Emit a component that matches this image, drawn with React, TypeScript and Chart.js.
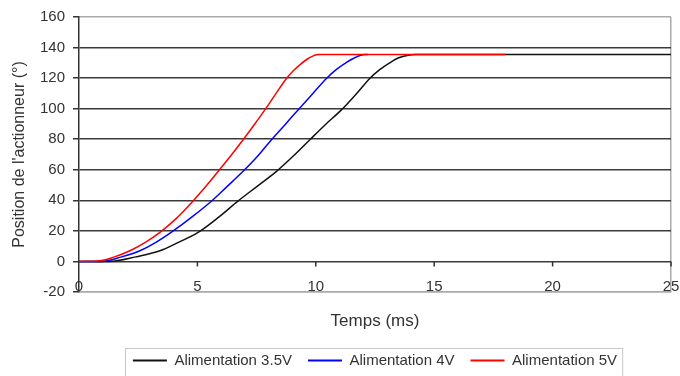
import { useEffect, useRef } from "react";
import { Chart, registerables } from "chart.js";

Chart.register(...registerables);

// ---- data ----
const seriesNames = ["Alimentation 3.5V", "Alimentation 4V", "Alimentation 5V"];
const seriesColors = ["#111111", "#0000ff", "#ff0000"];

const time35 = [0, 1.3, 2.4, 3.42, 4.2, 5.03, 5.9, 6.72, 7.55, 8.34, 9.05, 9.75, 10.4, 11.08, 11.7, 12.28, 12.7, 13.12, 13.5, 13.9, 14.2, 25];
const pos35 = [0, 0, 3, 7, 12.5, 19, 29, 39.6, 49.5, 59, 69, 79.7, 89.5, 99.2, 109.5, 119.8, 125.5, 130, 133.3, 135, 135.5, 135.5];

const time4 = [0, 0.95, 1.8, 2.57, 3.3, 3.98, 4.8, 5.6, 6.25, 6.93, 7.55, 8.13, 8.7, 9.25, 9.85, 10.45, 10.9, 11.3, 11.6, 11.9, 12.2];
const pos4 = [0, 0, 3, 7, 13, 20, 29.5, 39.6, 49, 59, 69, 79.7, 89.5, 99.2, 109.5, 119.8, 126, 130.3, 133, 135, 135.5];

const time5 = [0, 0.9, 1.5, 2.15, 2.8, 3.42, 4.1, 4.82, 5.35, 5.88, 6.4, 6.93, 7.4, 7.85, 8.3, 8.76, 9.05, 9.35, 9.7, 10.1, 18];
const pos5 = [0, 0.5, 3, 7, 12.5, 19, 28, 39.6, 49, 59, 69, 79.7, 89.5, 99.2, 109.5, 119.8, 124.8, 129, 133, 135.5, 135.5];

const xMin = 0, xMax = 25, xStep = 5;
const yMin = -20, yMax = 160, yStep = 20;

const xTitle = "Temps (ms)";
const yTitle = "Position de l'actionneur (°)";

const toPoints = (ts: number[], vs: number[]) => ts.map((t, i) => ({ x: t, y: vs[i] }));

const FONT = "'Liberation Sans', Arial, sans-serif";

const decorPlugin = {
  id: "decor",
  beforeDatasetsDraw(chart: any) {
    const { ctx, scales } = chart;
    const xs = scales.x, ys = scales.y;
    const y0 = ys.getPixelForValue(0);
    ctx.save();
    ctx.strokeStyle = "#333";
    ctx.lineWidth = 1.5;
    xs.ticks.forEach((tk: any) => {
      if (tk.value === xMin) return;
      const px = xs.getPixelForValue(tk.value);
      ctx.beginPath();
      ctx.moveTo(px, y0);
      ctx.lineTo(px, y0 + 5);
      ctx.stroke();
    });
    ctx.restore();
  },
  afterDraw(chart: any) {
    const { ctx, scales } = chart;
    const xs = scales.x;
    // x tick labels, sitting on the bottom border line
    ctx.save();
    ctx.font = `15px ${FONT}`;
    ctx.fillStyle = "#333";
    ctx.textAlign = "center";
    ctx.textBaseline = "middle";
    const ly = xs.top - 5;
    xs.ticks.forEach((tk: any) => {
      ctx.fillText(String(tk.value), xs.getPixelForValue(tk.value), ly);
    });
    ctx.restore();

    const lg = chart.legend;
    if (!lg || !lg.legendHitBoxes || !lg.legendHitBoxes.length) return;
    const hb = lg.legendHitBoxes;
    const left = Math.min(...hb.map((h: any) => h.left)) - 8;
    const right = Math.max(...hb.map((h: any) => h.left + h.width)) + 5;
    const top = Math.min(...hb.map((h: any) => h.top)) - 5;
    ctx.save();
    ctx.strokeStyle = "#c8c8c8";
    ctx.lineWidth = 1;
    ctx.strokeRect(Math.round(left) + 0.5, Math.round(top) + 0.5, right - left, chart.height - top + 5);
    ctx.restore();
  },
};

export default function App() {
  const ref = useRef<HTMLCanvasElement | null>(null);

  useEffect(() => {
    if (!ref.current) return;
    const data = [toPoints(time35, pos35), toPoints(time4, pos4), toPoints(time5, pos5)];
    const orders = [2, 1, 0];
    const chart = new Chart(ref.current, {
      type: "scatter",
      data: {
        datasets: seriesNames.map((name, i) => ({
          label: name,
          data: data[i],
          showLine: true,
          borderColor: seriesColors[i],
          backgroundColor: seriesColors[i],
          borderWidth: 1.5,
          pointRadius: 0,
          cubicInterpolationMode: "monotone" as const,
          order: orders[i],
        })),
      },
      options: {
        animation: false,
        responsive: false,
        layout: { padding: { top: 15, right: 9, left: 0, bottom: -2 } },
        plugins: {
          tooltip: { enabled: false },
          legend: {
            position: "bottom",
            fullSize: false,
            labels: {
              font: { family: FONT, size: 15 },
              color: "#333",
              boxWidth: 34,
              boxHeight: 2,
              padding: 16,
              sort: (a: any, b: any) => a.datasetIndex - b.datasetIndex,
              generateLabels: (chart: any) =>
                Chart.defaults.plugins.legend.labels
                  .generateLabels(chart)
                  .map((l: any) => ({ ...l, lineWidth: 0, strokeStyle: "transparent", fillStyle: seriesColors[l.datasetIndex] })),
            },
          },
        },
        scales: {
          x: {
            type: "linear",
            min: xMin,
            max: xMax,
            afterFit: (s: any) => { s.height = 45; },
            ticks: {
              stepSize: xStep,
              display: false,
            },
            grid: {
              drawTicks: false,
              color: (c: any) => (c.tick && c.tick.value === xMax ? "#aaaaaa" : "rgba(0,0,0,0)"),
              lineWidth: 1.5,
            },
            border: { color: "#aaaaaa", width: 1.5 },
            title: {
              display: true,
              text: xTitle,
              font: { family: FONT, size: 17 },
              color: "#333",
              padding: { top: 0, bottom: 5 },
            },
          },
          y: {
            type: "linear",
            min: yMin,
            max: yMax,
            afterFit: (s: any) => { s.width = 79; },
            ticks: {
              stepSize: yStep,
              font: { family: FONT, size: 15 },
              color: "#333",
              padding: 8,
            },
            grid: {
              color: (c: any) =>
                c.tick && (c.tick.value === yMax || c.tick.value === yMin) ? "#aaaaaa" : "#3a3a3a",
              lineWidth: 1.5,
              tickLength: 6,
              tickColor: "#333",
            },
            border: { color: "#333", width: 1.5 },
            title: {
              display: true,
              text: yTitle,
              font: { family: FONT, size: 16 },
              color: "#333",
              padding: { top: 10, bottom: 0 },
            },
          },
        },
      },
      plugins: [decorPlugin],
    });
    return () => chart.destroy();
  }, []);

  return (
    <div style={{ position: "absolute", left: 0, top: 0, width: 680, height: 376, background: "#fff" }}>
      <canvas ref={ref} width={680} height={376} style={{ display: "block" }} />
    </div>
  );
}
